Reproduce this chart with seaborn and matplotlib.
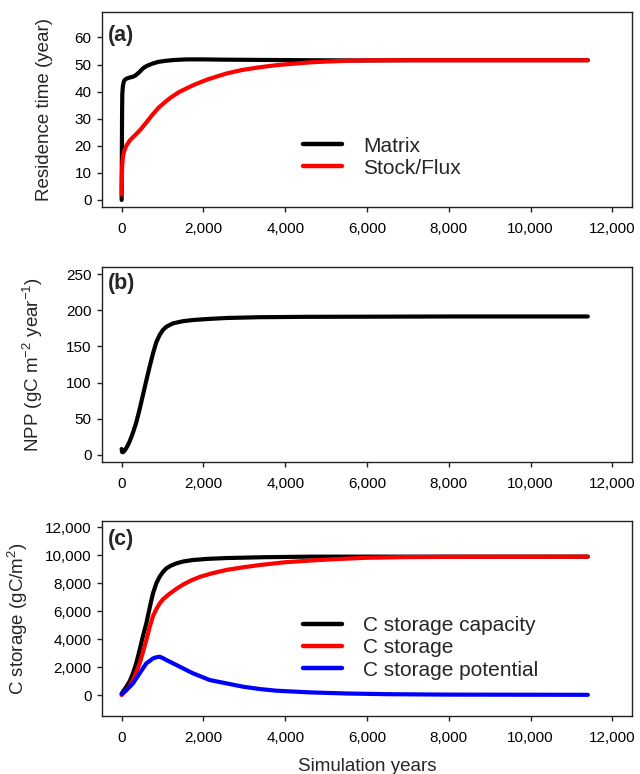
import matplotlib
matplotlib.use("Agg")
import matplotlib.pyplot as plt
import matplotlib.ticker as mticker
import seaborn as sns

# (a) residence time
mat_years = [0, 5, 10, 16, 30, 50, 73, 120, 196, 277, 330, 380, 440, 490, 540, 605, 680, 767, 900, 1094, 1300, 1584, 2000, 2500, 3500, 4500, 5826, 7000, 9000, 11400]
mat_rt = [0, 15, 30, 39, 42, 43.5, 44.3, 44.8, 45.2, 45.5, 45.9, 46.5, 47.3, 48.1, 48.8, 49.4, 49.9, 50.4, 51.0, 51.4, 51.7, 51.9, 51.9, 51.8, 51.7, 51.6, 51.5, 51.6, 51.6, 51.6]

sf_years = [0, 5, 15, 33, 60, 115, 200, 300, 400, 480, 560, 650, 767, 900, 1050, 1200, 1400, 1600, 1800, 2100, 2563, 2950, 3378, 3800, 4194, 4600, 5011, 5500, 6000, 7000, 9000, 11400]
sf_rt = [2, 8, 13, 16, 18, 20.0, 22.0, 23.5, 25.0, 26.3, 27.8, 29.5, 31.7, 34.0, 36.0, 37.8, 39.8, 41.3, 42.7, 44.5, 46.7, 48.0, 49.0, 49.8, 50.3, 50.8, 51.1, 51.4, 51.55, 51.6, 51.6, 51.6]

# (b) NPP
npp_years = [0, 10, 30, 60, 100, 150, 200, 280, 359, 440, 522, 600, 685, 770, 849, 930, 1012, 1100, 1257, 1500, 1746, 2100, 2563, 3378, 4500, 6000, 8000, 10000, 11400]
npp = [8, 4, 3.5, 5, 8, 13, 19, 31, 45, 63, 83, 102, 122, 141, 156, 166, 173, 177.5, 182, 185, 186.6, 188, 189.4, 190.5, 191, 191.2, 191.5, 191.5, 191.5]

# (c) C storage
cap_years = [0, 115, 200, 277, 360, 440, 520, 604, 690, 767, 850, 930, 1010, 1094, 1200, 1340, 1500, 1746, 2100, 2563, 3500, 4600, 6000, 8000, 11400]
capacity = [100, 594, 1000, 1550, 2300, 3220, 4200, 5130, 6300, 7280, 8000, 8470, 8800, 9060, 9250, 9420, 9550, 9660, 9740, 9800, 9860, 9900, 9900, 9900, 9900]

sto_years = [0, 115, 200, 277, 360, 440, 520, 604, 690, 767, 850, 930, 1010, 1094, 1175, 1340, 1502, 1700, 1910, 2200, 2563, 3000, 3378, 4000, 4600, 5200, 6000, 7000, 8000, 11400]
storage = [0, 358, 650, 1073, 1650, 2266, 3050, 3936, 4900, 5650, 6150, 6550, 6850, 7050, 7250, 7600, 7900, 8200, 8450, 8700, 8950, 9150, 9300, 9500, 9620, 9720, 9820, 9870, 9890, 9900]

pot_years = [0, 115, 200, 277, 360, 440, 520, 604, 690, 767, 850, 930, 1010, 1094, 1340, 1746, 2155, 2563, 2971, 3378, 3786, 4600, 5500, 6500, 8000, 11400]
potential = [70, 358, 600, 834, 1200, 1550, 1900, 2266, 2450, 2620, 2700, 2740, 2640, 2505, 2147, 1550, 1073, 834, 594, 430, 310, 190, 110, 60, 30, 15]

xticks = [0, 2000, 4000, 6000, 8000, 10000, 12000]

sns.set_style("ticks")
plt.rcParams["font.family"] = ["Liberation Sans", "DejaVu Sans"]
plt.rcParams["mathtext.fontset"] = "custom"
plt.rcParams["mathtext.rm"] = "Liberation Sans"
plt.rcParams["mathtext.it"] = "Liberation Sans"
plt.rcParams["mathtext.default"] = "regular"

fig = plt.figure(figsize=(6.4, 7.74), dpi=100)
W, H = 640, 774
left, right = 102, 632
tops = [12, 267, 521]
bots = [207, 462, 716]
axes = [fig.add_axes([left / W, 1 - b / H, (right - left) / W, (b - t) / H]) for t, b in zip(tops, bots)]
ax_a, ax_b, ax_c = axes

lw = 3
kw = dict(linewidth=lw, solid_capstyle="round", solid_joinstyle="round", estimator=None, sort=False)

sns.lineplot(x=mat_years, y=mat_rt, color="black", label="Matrix", ax=ax_a, **kw)
sns.lineplot(x=sf_years, y=sf_rt, color="red", label="Stock/Flux", ax=ax_a, **kw)

sns.lineplot(x=npp_years, y=npp, color="black", ax=ax_b, **kw)

sns.lineplot(x=cap_years, y=capacity, color="black", label="C storage capacity", ax=ax_c, **kw)
sns.lineplot(x=sto_years, y=storage, color="red", label="C storage", ax=ax_c, **kw)
sns.lineplot(x=pot_years, y=potential, color="blue", label="C storage potential", ax=ax_c, **kw)

ax_a.set_ylim(-2.6, 69.4)
ax_a.set_yticks(range(0, 61, 10))
ax_b.set_ylim(-10, 260)
ax_b.set_yticks(range(0, 251, 50))
ax_c.set_ylim(-1500, 12450)
ax_c.set_yticks(range(0, 12001, 2000))

comma = mticker.FuncFormatter(lambda v, p: f"{int(v):,}")
for ax in axes:
    ax.set_xlim(-480, 12480)
    ax.set_xticks(xticks)
    ax.xaxis.set_major_formatter(comma)
    for s in ax.spines.values():
        s.set_visible(True)
        s.set_linewidth(1.0)
        s.set_color("#222222")
    ax.tick_params(axis="both", direction="out", length=3.6, width=1.0, labelsize=11, colors="#222222", labelcolor="black")
    ax.tick_params(axis="x", pad=7)
    ax.tick_params(axis="y", pad=4)
    ax.set_xlabel("")
ax_c.yaxis.set_major_formatter(comma)

ax_a.set_ylabel("Residence time (year)", fontsize=13.5)
ax_b.set_ylabel("NPP (gC m$^{-2}$ year$^{-1}$)", fontsize=13.5)
ax_c.set_ylabel("C storage (gC/m$^2$)", fontsize=13.5)
ax_a.yaxis.set_label_coords(-0.0925, 0.5)
ax_b.yaxis.set_label_coords(-0.1075, 0.5)
ax_c.yaxis.set_label_coords(-0.135, 0.5)

ax_c.set_xlabel("Simulation years", fontsize=13.5)
ax_c.xaxis.set_label_coords(0.5, -0.215)

for ax, lab, yy in zip(axes, ["(a)", "(b)", "(c)"], [0.882, 0.913, 0.903]):
    ax.text(0.011, yy, lab, transform=ax.transAxes, ha="left", va="center",
            fontsize=15.5, fontweight="bold")

leg_kw = dict(loc="center left", frameon=False, borderpad=0, handlelength=1.9,
              handletextpad=1.0, labelspacing=0.15, fontsize=15, borderaxespad=0)
ax_a.legend(bbox_to_anchor=(0.379, 0.256), **leg_kw)
ax_c.legend(bbox_to_anchor=(0.379, 0.349), **leg_kw)
for leg in [ax_a.get_legend(), ax_c.get_legend()]:
    for h in leg.get_lines():
        h.set_linewidth(3.2)

fig.savefig("out.png", dpi=100)
